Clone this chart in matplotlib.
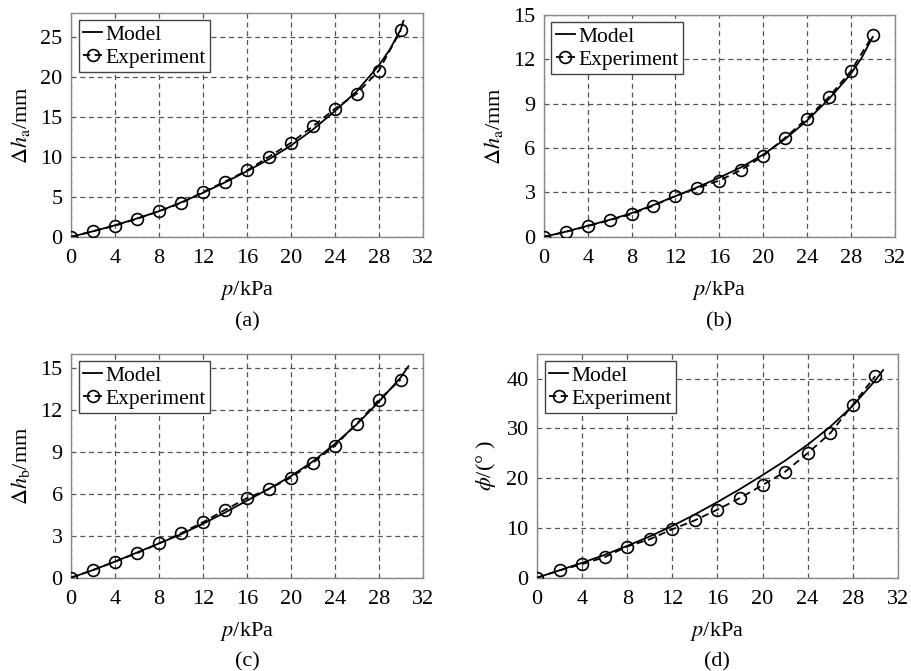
import matplotlib
matplotlib.use('Agg')
from matplotlib import pyplot as plt

plt.rcParams['font.family'] = ['Liberation Serif', 'DejaVu Serif']
plt.rcParams['mathtext.fontset'] = 'stix'

p_exp = [0, 2, 4, 6, 8, 10, 12, 14, 16, 18, 20, 22, 24, 26, 28, 30]

# (a) delta h_a
ha_exp = [0, 0.7, 1.4, 2.25, 3.2, 4.2, 5.6, 6.9, 8.3, 10.0, 11.75, 13.8, 16.0, 17.9, 20.75, 25.8]
p_mod_a = [0, 2, 4, 6, 8, 10, 12, 14, 16, 18, 20, 22, 24, 26, 28, 29, 30, 30.25]
ha_mod = [0, 0.7, 1.45, 2.3, 3.2, 4.3, 5.5, 6.8, 8.2, 9.7, 11.4, 13.4, 15.7, 18.2, 21.4, 23.4, 25.9, 27.0]

# (b) delta h_a
hb1_exp = [0, 0.34, 0.72, 1.12, 1.54, 2.1, 2.77, 3.29, 3.8, 4.52, 5.46, 6.69, 7.99, 9.44, 11.19, 13.6]
p_mod_b = [0, 2, 4, 6, 8, 10, 12, 14, 16, 18, 20, 22, 24, 26, 28, 29, 30]
hb1_mod = [0, 0.35, 0.75, 1.15, 1.6, 2.15, 2.75, 3.35, 4.0, 4.7, 5.55, 6.6, 7.85, 9.3, 11.0, 12.1, 13.5]

# (c) delta h_b
hb_exp = [0, 0.55, 1.15, 1.75, 2.45, 3.17, 3.96, 4.84, 5.68, 6.33, 7.15, 8.2, 9.42, 11.0, 12.69, 14.15]
p_mod_c = [0, 2, 4, 6, 8, 10, 12, 14, 16, 18, 20, 22, 24, 26, 28, 30, 30.7]
hb_mod = [0, 0.55, 1.15, 1.8, 2.45, 3.1, 3.85, 4.65, 5.5, 6.35, 7.25, 8.3, 9.55, 10.95, 12.55, 14.3, 15.1]

# (d) phi
phi_exp = [0, 1.47, 2.73, 4.13, 6.27, 7.73, 9.73, 11.53, 13.67, 16.0, 18.6, 21.27, 25.0, 29.0, 34.7, 40.5]
p_mod_d = [0, 2, 4, 6, 8, 10, 12, 14, 16, 18, 20, 22, 24, 26, 28, 30, 30.7]
phi_mod = [0, 1.5, 3.0, 4.6, 6.4, 8.3, 10.4, 12.7, 15.2, 17.8, 20.6, 23.5, 26.7, 30.3, 34.5, 39.6, 41.7]

panels = [
    ([0.078, 0.647, 0.386, 0.334], p_mod_a, ha_mod, ha_exp, 28, [0, 5, 10, 15, 20, 25],
     r'$\Delta h_{\rm a}$/mm', '(a)'),
    ([0.597, 0.647, 0.385, 0.331], p_mod_b, hb1_mod, hb1_exp, 15, [0, 3, 6, 9, 12, 15],
     r'$\Delta h_{\rm a}$/mm', '(b)'),
    ([0.078, 0.139, 0.386, 0.334], p_mod_c, hb_mod, hb_exp, 16, [0, 3, 6, 9, 12, 15],
     r'$\Delta h_{\rm b}$/mm', '(c)'),
    ([0.5895, 0.139, 0.396, 0.334], p_mod_d, phi_mod, phi_exp, 45, [0, 10, 20, 30, 40],
     r'$\phi$/(° )', '(d)'),
]

fig = plt.figure(figsize=(9.11, 6.71), dpi=100)

for rect, pm, ym, ye, ymax, yt, ylab, cap in panels:
    ax = fig.add_axes(rect)
    ax.plot(pm, ym, color='black', lw=1.3, label='Model', zorder=3)
    ax.plot(p_exp, ye, color='black', lw=1.3, ls=(0, (4, 2.5)), marker='o', ms=8.5,
            mfc='none', mec='black', mew=1.2, label='Experiment', zorder=4)
    ax.set_xlim(0, 32)
    ax.set_ylim(0, ymax)
    ax.set_xticks(range(0, 33, 4))
    ax.set_yticks(yt)
    ax.grid(True, color='#555555', ls=(0, (4, 3)), lw=0.9)
    ax.set_axisbelow(True)
    ax.tick_params(length=0, labelsize=16)
    ax.tick_params(axis='x', pad=9)
    ax.tick_params(axis='y', pad=6)
    for s in ax.spines.values():
        s.set_color('#888888')
        s.set_linewidth(1.0)
    ax.set_xlabel(r'$p$/kPa', fontsize=16, labelpad=8)
    ax.set_ylabel(ylab, fontsize=16, labelpad=6)
    leg = ax.legend(loc='upper left', fontsize=15.5, handlelength=0.9, handletextpad=0.15,
                    borderpad=0.2, labelspacing=0.15, borderaxespad=0.35,
                    fancybox=False, framealpha=1)
    leg.get_frame().set_edgecolor('#444444')
    leg.get_frame().set_linewidth(1.0)
    fig.text(rect[0] + rect[2] / 2, rect[1] - 0.126, cap, ha='center', va='center', fontsize=16)

fig.savefig('out.png', dpi=100)
